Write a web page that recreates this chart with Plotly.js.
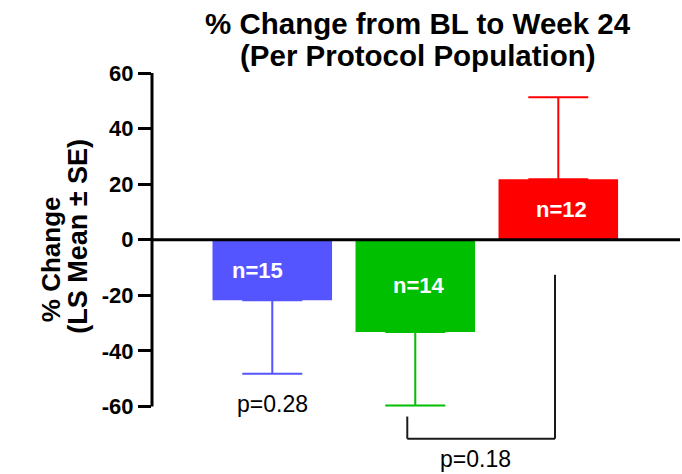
<!DOCTYPE html>
<html>
<head>
<meta charset="utf-8">
<script src="https://cdn.plot.ly/plotly-3.0.1.min.js"></script>
<style>
  html, body { margin: 0; padding: 0; background: #ffffff; }
  #chart { width: 682px; height: 474px; }
</style>
</head>
<body>
<div id="chart"></div>
<script>
// Treatment arms, least-squares mean % change and standard error
const arms = ['Arm 1', 'Arm 2', 'Arm 3'];
const lsMean = [-21.8, -33.2, 21.8];
const se = [26.4, 26.4, 29.5];
const nLabels = ['n=15', 'n=14', 'n=12'];
const pLabels = ['p=0.28', 'p=0.18'];
const yTicks = [-60, -40, -20, 0, 20, 40, 60];
const titleLines = ['% Change from BL to Week 24', '(Per Protocol Population)'];

const colors = ['rgb(85,85,255)', 'rgb(0,190,0)', 'rgb(255,0,0)'];
const labelShift = [-15, 4, 3];

const SANS = '"Liberation Sans", Arial, Helvetica, sans-serif';

// One bar per arm so each error bar takes its arm's colour; SE drawn away from zero only
const traces = arms.map((arm, i) => ({
  type: 'bar',
  x: [arm],
  y: [lsMean[i]],
  width: 0.836,
  marker: { color: colors[i], line: { width: 0 } },
  error_y: {
    type: 'data',
    symmetric: false,
    array: [lsMean[i] > 0 ? se[i] : 0],
    arrayminus: [lsMean[i] < 0 ? se[i] : 0],
    color: colors[i],
    thickness: 2,
    width: 30
  },
  hoverinfo: 'skip',
  showlegend: false
}));

const annotations = [];

// Chart title, one annotation per line for tight line spacing
const titleY = [1.1315, 1.0476];
titleLines.forEach((line, i) => {
  annotations.push({
    x: 0.504, y: titleY[i], xref: 'paper', yref: 'paper',
    xanchor: 'center', yanchor: 'middle',
    text: '<b>' + line + '</b>',
    showarrow: false,
    font: { family: SANS, size: 29.5, color: '#000000' }
  });
});

// Sample sizes inside the bars
arms.forEach((arm, i) => {
  annotations.push({
    x: arm, y: lsMean[i] / 2, xref: 'x', yref: 'y',
    xanchor: 'center', yanchor: 'middle',
    text: '<b>' + nLabels[i] + '</b>',
    showarrow: false, xshift: labelShift[i],
    font: { family: SANS, size: 22, color: '#ffffff' }
  });
});

// p-value under the first arm's error bar
annotations.push({
  x: arms[0], y: lsMean[0] - se[0], xref: 'x', yref: 'y',
  xanchor: 'center', yanchor: 'top', yshift: -15,
  text: pLabels[0], showarrow: false,
  font: { family: SANS, size: 23, color: '#000000' }
});

// Comparison bracket between the second and third arms
const brLeft = 0.944, brRight = 1.977, brBottom = -71.6;
annotations.push({
  x: (brLeft + brRight) / 2 - 0.04, y: brBottom, xref: 'x', yref: 'y',
  xanchor: 'center', yanchor: 'top', yshift: -5,
  text: pLabels[1], showarrow: false,
  font: { family: SANS, size: 23, color: '#000000' }
});

// Two-line y-axis title, one line per annotation
annotations.push({
  x: -0.191, y: 0.508, xref: 'paper', yref: 'paper',
  xanchor: 'center', yanchor: 'middle',
  text: '<b>% Change</b>', textangle: -90, showarrow: false,
  font: { family: SANS, size: 26, color: '#000000' }
});
annotations.push({
  x: -0.140, y: 0.567, xref: 'paper', yref: 'paper',
  xanchor: 'center', yanchor: 'middle',
  text: '<b>(LS Mean ± SE)</b>', textangle: -90, showarrow: false,
  font: { family: SANS, size: 27, color: '#000000' }
});

const bracketLine = { color: '#1a1a1a', width: 2 };
const shapes = [
  // y-axis line, spanning the labelled range only
  { type: 'line', xref: 'paper', yref: 'y', x0: 0, x1: 0, y0: -60, y1: 60,
    line: { color: '#000000', width: 3 }, layer: 'above' },
  // zero line over the bars
  { type: 'line', xref: 'paper', yref: 'y', x0: 0, x1: 1, y0: 0, y1: 0,
    line: { color: '#000000', width: 3 }, layer: 'above' },
  // bracket
  { type: 'line', xref: 'x', yref: 'y', x0: brLeft, x1: brLeft, y0: -63.6, y1: brBottom, line: bracketLine },
  { type: 'line', xref: 'x', yref: 'y', x0: brLeft, x1: brRight, y0: brBottom, y1: brBottom, line: bracketLine },
  { type: 'line', xref: 'x', yref: 'y', x0: brRight, x1: brRight, y0: brBottom, y1: -12.6, line: bracketLine }
];

const layout = {
  width: 682,
  height: 474,
  margin: { l: 152, r: 2, t: 73, b: 23, pad: 0 },
  paper_bgcolor: '#ffffff',
  plot_bgcolor: '#ffffff',
  barmode: 'overlay',
  xaxis: {
    type: 'category',
    categoryorder: 'array',
    categoryarray: arms,
    range: [-0.841, 2.851],
    showticklabels: false,
    showline: false,
    showgrid: false,
    zeroline: false,
    ticks: '',
    fixedrange: true
  },
  yaxis: {
    range: [-76, 60],
    tickmode: 'array',
    tickvals: yTicks,
    ticktext: yTicks.map(String),
    ticks: 'outside',
    ticklen: 13,
    tickwidth: 3,
    tickcolor: '#000000',
    tickfont: { family: SANS, size: 22, color: '#000000', weight: 'bold' },
    showline: false,
    showgrid: false,
    zeroline: false,
    fixedrange: true
  },
  shapes: shapes,
  annotations: annotations
};

Plotly.newPlot('chart', traces, layout, { displayModeBar: false, staticPlot: true });
</script>
</body>
</html>
